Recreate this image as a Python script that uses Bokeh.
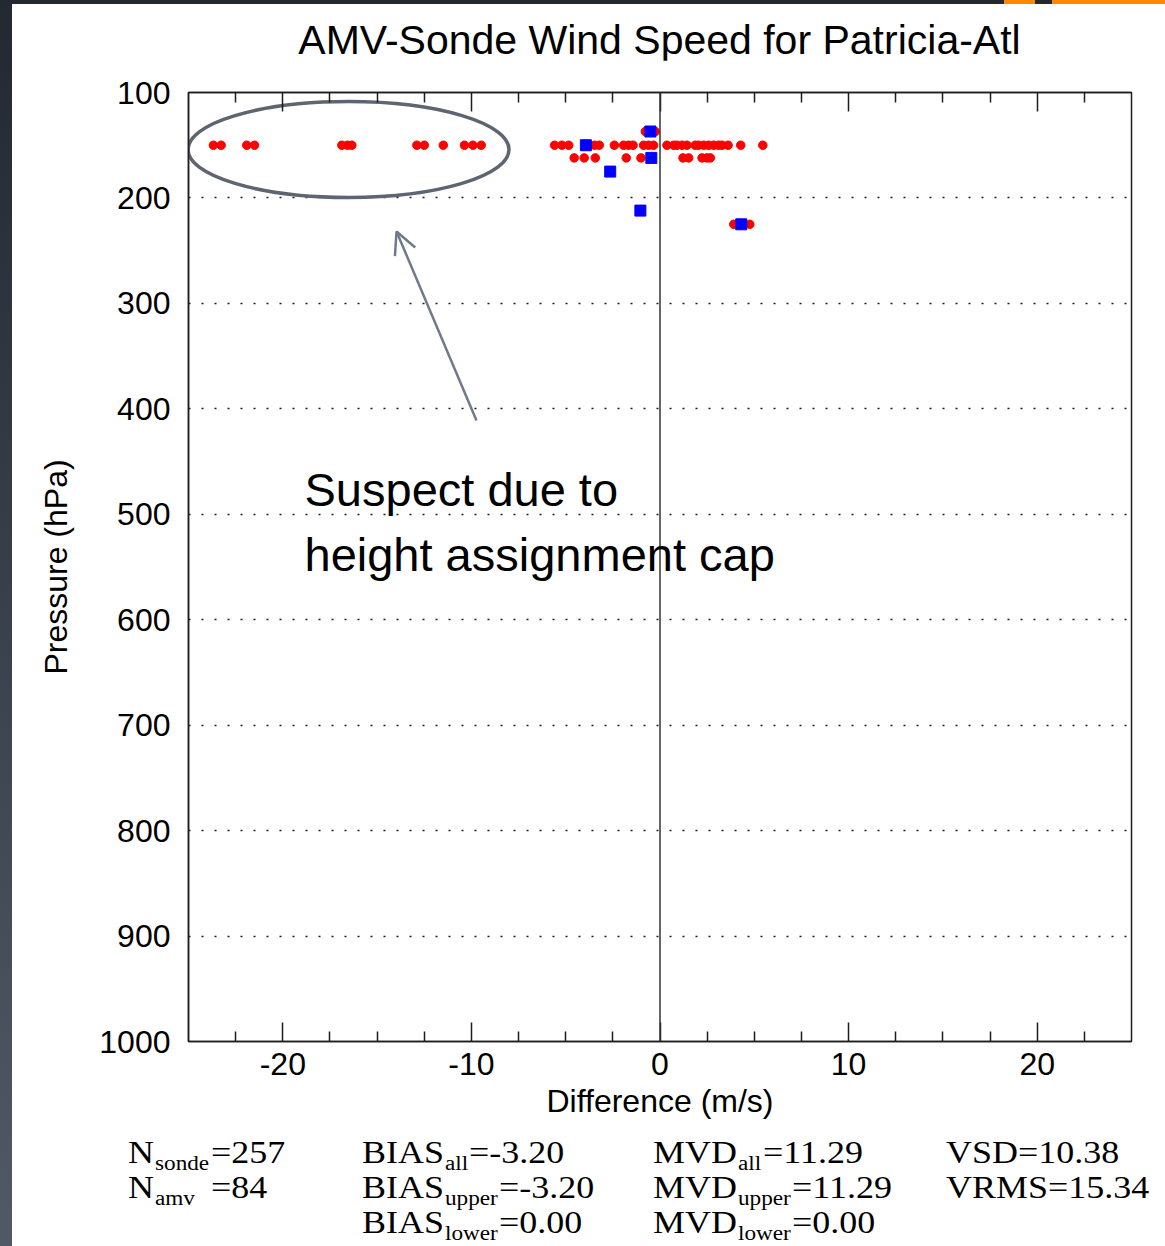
from bokeh.plotting import figure
from bokeh.models import Range1d, FixedTicker, LinearAxis, Span, Label, Arrow, OpenHead, Div
from bokeh.layouts import column
from bokeh.embed import file_html
from bokeh.resources import INLINE

# ---------------- data ----------------
title_text = "AMV-Sonde Wind Speed for Patricia-Atl"
x_label = "Difference (m/s)"
y_label = "Pressure (hPa)"
x_major_ticks = [-20, -10, 0, 10, 20]
x_major_labels = ["-20", "-10", "0", "10", "20"]
x_minor_ticks = [-22.5, -17.5, -15, -12.5, -7.5, -5, -2.5, 2.5, 5, 7.5, 12.5, 15, 17.5, 22.5]
y_ticks = [100, 200, 300, 400, 500, 600, 700, 800, 900, 1000]

# sonde matches (red dots)
sonde_diff = [-23.68, -23.27, -21.91, -21.50, -16.87, -16.57, -16.34, -12.89, -12.50, -11.49,
              -10.37, -9.92, -9.48, -5.59, -5.20, -4.84, -3.92, -3.47, -3.22, -2.42,
              -1.93, -1.66, -1.43, -0.87, -0.60, -0.34, 0.37, 0.73, 0.90, 1.17,
              1.43, 1.87, 2.05, 2.32, 2.58, 2.85, 3.11, 3.29, 3.61, 4.28, 5.45,
              -4.55, -4.02, -3.43, -1.79, -1.01, 1.22, 1.52, 2.23, 2.49, 2.67,
              -0.78, -0.25,
              3.91, 4.76]
sonde_pres = [150] * 41 + [162] * 10 + [137] * 2 + [225] * 2

# AMV (blue squares)
amv_diff = [-3.93, -0.51, -0.46, -2.64, -1.04, 4.31]
amv_pres = [150, 137, 162, 175, 212, 225]

note_lines = ["Suspect due to", "height assignment cap"]

n_sonde = 257
n_amv = 84
layer_names = ["all", "upper", "lower"]
bias_values = [-3.20, -3.20, 0.00]
mvd_values = [11.29, 11.29, 0.00]
vsd_value = 10.38
vrms_value = 15.34

# ---------------- layout helpers (page pixel -> data) ----------------
FL, FR, FT, FB = 188, 1131, 92, 1041   # frame edges on the page
X0, X1, P0, P1 = -25.0, 25.0, 100.0, 1000.0
TITLE_H = 60                            # page y where the plot figure starts
MAIN_BOTTOM = 1136                      # page y where the plot figure ends


def px_x(px):
    return X0 + (px - FL) * (X1 - X0) / (FR - FL)


def px_p(py):
    return P0 + (py - FT) * (P1 - P0) / (FB - FT)


SANS = "Liberation Sans"
SERIF = "Liberation Serif"
INK = "#1e1e1e"

# ---------------- title (HTML above the plot) ----------------
title_html = ('<div style="position:relative;width:1153px;height:%dpx;">'
              '<div style="position:absolute;left:%dpx;top:20px;width:%dpx;text-align:center;'
              'font-family:\'Liberation Sans\',sans-serif;font-size:41px;line-height:1;'
              'color:black;white-space:nowrap;">%s</div></div>'
              % (TITLE_H, FL - 12, FR - FL, title_text))
title_div = Div(text=title_html, width=1153, height=TITLE_H, margin=(0, 0, 0, 12))

# ---------------- main plot ----------------
p = figure(width=1153, height=MAIN_BOTTOM - TITLE_H,
           x_range=Range1d(X0, X1), y_range=Range1d(P1, P0),
           output_backend="svg", toolbar_location=None,
           min_border_left=FL - 12, min_border_right=1165 - FR,
           min_border_top=FT - TITLE_H, min_border_bottom=MAIN_BOTTOM - FB)
p.margin = (0, 0, 0, 12)
p.title.text = ""
p.title.text_font_size = "0px"
p.title.standoff = 0
p.background_fill_color = "white"
p.border_fill_color = "white"
p.outline_line_color = INK
p.outline_line_width = 1.5
p.outline_line_alpha = 1.0

# bottom axis
xa = p.xaxis[0]
xa.ticker = FixedTicker(ticks=x_major_ticks, minor_ticks=x_minor_ticks)
xa.major_label_overrides = dict(zip(x_major_ticks, x_major_labels))
xa.axis_label = x_label
xa.axis_label_text_font = SANS
xa.axis_label_text_font_size = "32px"
xa.axis_label_text_font_style = "normal"
xa.axis_label_text_color = "black"
xa.axis_label_standoff = 5
xa.major_label_text_font = SANS
xa.major_label_text_font_size = "32px"
xa.major_label_text_color = "black"
xa.major_label_standoff = 11
xa.major_tick_in = 19
xa.major_tick_out = 0
xa.minor_tick_in = 10
xa.minor_tick_out = 0
xa.axis_line_color = INK
xa.axis_line_width = 1.5
xa.major_tick_line_color = INK
xa.major_tick_line_width = 1.5
xa.minor_tick_line_color = INK
xa.minor_tick_line_width = 1.5

# top axis: ticks only
ta = LinearAxis(ticker=FixedTicker(ticks=x_major_ticks, minor_ticks=x_minor_ticks),
                major_label_text_font_size="0px", major_label_standoff=0,
                major_label_overrides={t: "" for t in x_major_ticks},
                major_tick_in=19, major_tick_out=0, minor_tick_in=10, minor_tick_out=0,
                axis_line_color=INK, axis_line_width=1.5,
                major_tick_line_color=INK, major_tick_line_width=1.5,
                minor_tick_line_color=INK, minor_tick_line_width=1.5)
p.add_layout(ta, "above")

# left axis
ya = p.yaxis[0]
ya.ticker = FixedTicker(ticks=y_ticks)
ya.axis_label = y_label
ya.axis_label_text_font = SANS
ya.axis_label_text_font_size = "32px"
ya.axis_label_text_font_style = "normal"
ya.axis_label_text_color = "black"
ya.axis_label_standoff = 22
ya.major_label_text_font = SANS
ya.major_label_text_font_size = "32px"
ya.major_label_text_color = "black"
ya.major_label_standoff = 18
ya.major_tick_in = 0
ya.major_tick_out = 0
ya.major_tick_line_color = None
ya.minor_tick_line_color = None
ya.axis_line_color = INK
ya.axis_line_width = 1.5

# grid
p.xgrid.grid_line_color = None
p.ygrid.ticker = FixedTicker(ticks=y_ticks)
p.ygrid.grid_line_color = INK
p.ygrid.grid_line_width = 1.5
p.ygrid.grid_line_dash = "2 11"

# zero line
p.add_layout(Span(location=0, dimension="height", line_color="#333333", line_width=1.5))

# points
p.scatter(sonde_diff, sonde_pres, marker="circle", size=8.5,
          fill_color="#ff0000", line_color="#ff0000")
p.scatter(amv_diff, amv_pres, marker="square", size=11,
          fill_color="#0000ff", line_color="#0000ff")

# ellipse highlighting the suspect points
p.ellipse(x=[px_x(348)], y=[px_p(149)], width=[321 * (X1 - X0) / (FR - FL)],
          height=[96 * (P1 - P0) / (FB - FT)], fill_color=None,
          line_color="#5d6571", line_width=3.5)

# arrow
arrow_col = "#6f7b8b"
p.add_layout(Arrow(end=OpenHead(size=22, line_color=arrow_col, line_width=2.5),
                   x_start=px_x(476), y_start=px_p(420),
                   x_end=px_x(396), y_end=px_p(231),
                   line_color=arrow_col, line_width=2.5))

# note text (svg backend draws these a little lower than requested)
for line, base in zip(note_lines, [489, 554]):
    p.add_layout(Label(x=px_x(304), y=px_p(base), text=line, text_font=SANS,
                       text_font_size="47px", text_color="black",
                       text_baseline="alphabetic", text_align="left"))

# ---------------- statistics block (HTML below the plot) ----------------
MAIN_PX = 31
SUB_PX = 20
SX = 1.16          # horizontal stretch of the original lettering
LH = 0.8
rows = [1164, 1199, 1234]
spans = []


def put(px, baseline, txt, size):
    top = baseline - MAIN_BOTTOM - round(0.7375 * size)
    spans.append(f'<span style="position:absolute;left:{px - 12}px;top:{top}px;'
                 f'font-size:{size}px;line-height:{LH};white-space:nowrap;'
                 f'transform:scaleX({SX});transform-origin:0 0;">{txt}</span>')


def put_sub(px, baseline, txt):
    put(px, baseline + 6, txt, SUB_PX)


put(128, rows[0], "N", MAIN_PX); put_sub(155, rows[0], "sonde"); put(211, rows[0], f"={n_sonde}", MAIN_PX)
put(128, rows[1], "N", MAIN_PX); put_sub(155, rows[1], "amv"); put(211, rows[1], f"={n_amv}", MAIN_PX)

bias_eq_x = [469, 499, 499]
mvd_eq_x = [763, 792, 792]
for i, name in enumerate(layer_names):
    put(362, rows[i], "BIAS", MAIN_PX); put_sub(445, rows[i], name)
    put(bias_eq_x[i], rows[i], f"={bias_values[i]:.2f}", MAIN_PX)
    put(653, rows[i], "MVD", MAIN_PX); put_sub(738, rows[i], name)
    put(mvd_eq_x[i], rows[i], f"={mvd_values[i]:.2f}", MAIN_PX)

put(946, rows[0], f"VSD={vsd_value:.2f}", MAIN_PX)
put(946, rows[1], f"VRMS={vrms_value:.2f}", MAIN_PX)

stats_html = ('<div style="position:relative;width:1153px;height:%dpx;background:white;'
              'font-family:\'Liberation Serif\',serif;color:black;">%s</div>'
              % (1246 - MAIN_BOTTOM, "".join(spans)))
stats = Div(text=stats_html, width=1153, height=1246 - MAIN_BOTTOM,
            margin=(0, 0, 0, 12), styles={"background": "white"})

bg = ("linear-gradient(to right, #232831 1004px, #ff8a00 1004px, #ff8a00 1035px, "
      "#232831 1035px, #232831 1052px, #ff8a00 1052px) top left / 100% 4px no-repeat, "
      "linear-gradient(to bottom, #232831, #505a66) top left / 12px 100% no-repeat, "
      "white")
layout = column(title_div, p, stats, spacing=0, styles={"background": bg})

open("out.html", "w").write(file_html(layout, INLINE))
